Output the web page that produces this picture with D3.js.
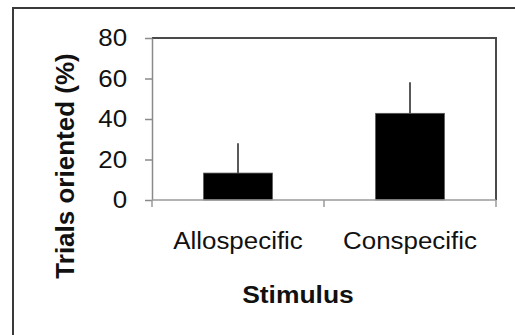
<!DOCTYPE html>
<html>
<head>
    <title>Trials oriented</title>
</head>
<body style="margin:0">
<style>
body { background: #fff; }
text { font-family: "Liberation Sans", Arial, Helvetica, sans-serif; fill: #111; }
.axis-title { font-weight: bold; }
</style>
<svg width="515" height="335"></svg>
<script src="https://d3js.org/d3.v7.min.js"></script>
<script>
var categories = ["Allospecific", "Conspecific"];
var means = [13.3, 42.8];
var errors = [14.7, 15.3];
var yTicks = [0, 20, 40, 60, 80];

var svg = d3.select("svg"),
    width = +svg.attr("width"),
    height = +svg.attr("height");

var margin = {top: 38, right: 19, bottom: 135, left: 152};
var stretch = 1.08; // the source text is a little wide

// outer frame, right and bottom edges fall outside the picture
svg.append("rect")
    .attr("x", 13)
    .attr("y", 8)
    .attr("width", width)
    .attr("height", height)
    .attr("fill", "none")
    .attr("stroke", "#3a3a3a")
    .attr("stroke-width", 2);

var x = d3.scaleBand()
    .domain(categories)
    .range([margin.left, width - margin.right])
    .padding(0);

var y = d3.scaleLinear()
    .domain([0, 80])
    .range([height - margin.bottom, margin.top]);

var data = categories.map(function(c, i) {
  return {name: c, mean: means[i], err: errors[i]};
});

// plot frame (top/right darker)
svg.append("path")
    .attr("d", "M" + x.range()[0] + "," + y(80) + "H" + x.range()[1] + "V" + y(0))
    .attr("fill", "none")
    .attr("stroke", "#4a4a4a")
    .attr("stroke-width", 2);

var bw = x.bandwidth();

svg.append("g")
    .selectAll("line")
    .data(data)
    .enter().append("line")
      .attr("x1", function(d) { return x(d.name) + bw / 2; })
      .attr("x2", function(d) { return x(d.name) + bw / 2; })
      .attr("y1", function(d) { return y(d.mean); })
      .attr("y2", function(d) { return y(d.mean + d.err); })
      .attr("stroke", "#222")
      .attr("stroke-width", 1.5);

svg.append("g")
    .selectAll("rect")
    .data(data)
    .enter().append("rect")
      .attr("x", function(d) { return x(d.name) + bw * 0.3; })
      .attr("width", bw * 0.4)
      .attr("y", function(d) { return y(d.mean); })
      .attr("height", function(d) { return y(0) - y(d.mean); })
      .attr("fill", "#000")
      .attr("stroke", "#555")
      .attr("stroke-width", 0.8);

var yAxis = svg.append("g")
    .attr("transform", "translate(" + margin.left + ",0)")
    .call(d3.axisLeft(y).tickValues(yTicks).tickSize(7).tickPadding(16).tickSizeOuter(0));

yAxis.select(".domain").attr("stroke", "#8a8a8a").attr("stroke-width", 1.5);
yAxis.selectAll(".tick line").attr("stroke", "#8a8a8a").attr("stroke-width", 1.5);
yAxis.selectAll(".tick text")
    .attr("font-size", 24)
    .attr("font-family", null)
    .attr("fill", "#111")
    .attr("transform", "scale(" + stretch + ",1)");

var xAxis = svg.append("g")
    .attr("transform", "translate(0," + y(0) + ")");

xAxis.append("line")
    .attr("x1", x.range()[0])
    .attr("x2", x.range()[1])
    .attr("stroke", "#9a9a9a")
    .attr("stroke-width", 1.5);

// ticks sit between categories, Excel style
var bounds = categories.map(function(c) { return x(c); }).concat([x.range()[1]]);
xAxis.selectAll(".xt")
    .data(bounds)
    .enter().append("line")
      .attr("class", "xt")
      .attr("x1", function(d) { return d; })
      .attr("x2", function(d) { return d; })
      .attr("y1", 0)
      .attr("y2", 7)
      .attr("stroke", "#9a9a9a")
      .attr("stroke-width", 1.5);

xAxis.selectAll(".xl")
    .data(categories)
    .enter().append("text")
      .attr("class", "xl")
      .attr("transform", function(d) {
        return "translate(" + (x(d) + bw / 2) + ",48.5) scale(" + stretch + ",1)";
      })
      .attr("text-anchor", "middle")
      .attr("font-size", 24)
      .text(function(d) { return d; });

svg.append("text")
    .attr("class", "axis-title")
    .attr("transform", "translate(298,302.5) scale(" + stretch + ",1)")
    .attr("text-anchor", "middle")
    .attr("font-size", 24.5)
    .text("Stimulus");

svg.append("text")
    .attr("class", "axis-title")
    .attr("transform", "translate(74,166) rotate(-90)")
    .attr("text-anchor", "middle")
    .attr("font-size", 26)
    .text("Trials oriented (%)");
</script>
</body>
</html>
